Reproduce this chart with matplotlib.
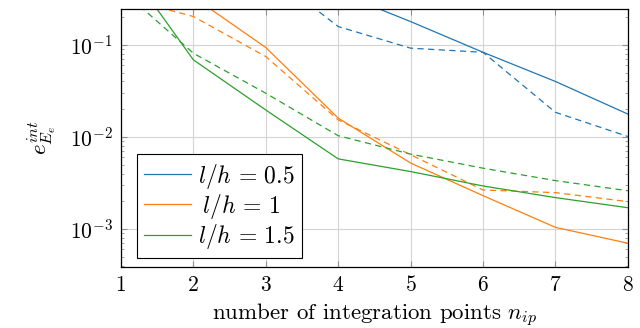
import matplotlib
matplotlib.use("Agg")
import matplotlib.pyplot as plt
import matplotlib.ticker as ticker

plt.rcParams['font.family'] = ['cmr10', 'DejaVu Serif']
plt.rcParams['mathtext.fontset'] = 'cm'
plt.rcParams['axes.formatter.use_mathtext'] = True

n_ip = [1, 2, 3, 4, 5, 6, 7, 8]

# solid lines
err_05 = [4.0, 2.0, 0.9, 0.37, 0.179, 0.083, 0.040, 0.0177]
err_1 = [0.7, 0.33, 0.0935, 0.016, 0.0052, 0.0023, 0.00104, 0.0007]
err_15 = [0.86, 0.0687, 0.0196, 0.00577, 0.0042, 0.00293, 0.00219, 0.0017]

# dashed lines
err_05_d = [3.0, 1.5, 0.64, 0.158, 0.092, 0.083, 0.0185, 0.0101]
err_1_d = [0.33, 0.203, 0.0746, 0.0153, 0.0064, 0.00265, 0.00248, 0.00198]
err_15_d = [0.40, 0.081, 0.0298, 0.0103, 0.0065, 0.00457, 0.00335, 0.0026]

# the middle label is padded a little, as in the original legend
labels = [r'$l/h\,=\,0.5$', r'$\:l/h\,=\,1$', r'$l/h\,=\,1.5$']
colors = ['#1f77b4', '#ff7f0e', '#2ca02c']

fig = plt.figure(figsize=(6.4, 3.28), dpi=100)
ax = fig.add_axes([0.189, 0.186, 0.792, 0.787])

solid = [err_05, err_1, err_15]
dashed = [err_05_d, err_1_d, err_15_d]
for s, d, c, lab in zip(solid, dashed, colors, labels):
    ax.plot(n_ip, s, '-', color=c, lw=0.9, label=lab)
    ax.plot(n_ip, d, '--', color=c, lw=0.9, dashes=(5, 3.5))

ax.set_yscale('log')
ax.set_xlim(1, 8)
ax.set_ylim(3.86e-4, 0.246)
ax.set_xticks(n_ip)
ax.yaxis.set_major_locator(ticker.LogLocator(base=10, numticks=10))
ax.yaxis.set_minor_locator(ticker.LogLocator(base=10, subs=range(2, 10), numticks=20))
ax.yaxis.set_minor_formatter(ticker.NullFormatter())

ax.grid(True, which='major', color='#d4d4d4', lw=0.8)
ax.set_axisbelow(True)
ax.tick_params(which='both', direction='in', top=True, right=True, color='#909090', labelsize=15.5)
ax.tick_params(axis='x', pad=6)
ax.tick_params(axis='y', pad=6)
ax.tick_params(which='major', length=4)
ax.tick_params(which='minor', length=2.5)
for sp in ax.spines.values():
    sp.set_linewidth(0.9)

ax.set_xlabel('number of integration points $n_{ip}$', fontsize=16.5, labelpad=5)
ax.set_ylabel('$e^{int}_{E_e}$', fontsize=16.5, labelpad=8)

leg = ax.legend(loc='lower left', bbox_to_anchor=(0.0316, 0.035), fontsize=17, fancybox=False,
                edgecolor='black', framealpha=1, handlelength=2.0, handletextpad=0.3,
                labelspacing=0.05, borderaxespad=0.0, borderpad=0.3)
leg.get_frame().set_linewidth(0.8)

fig.savefig('out.png', dpi=100)
